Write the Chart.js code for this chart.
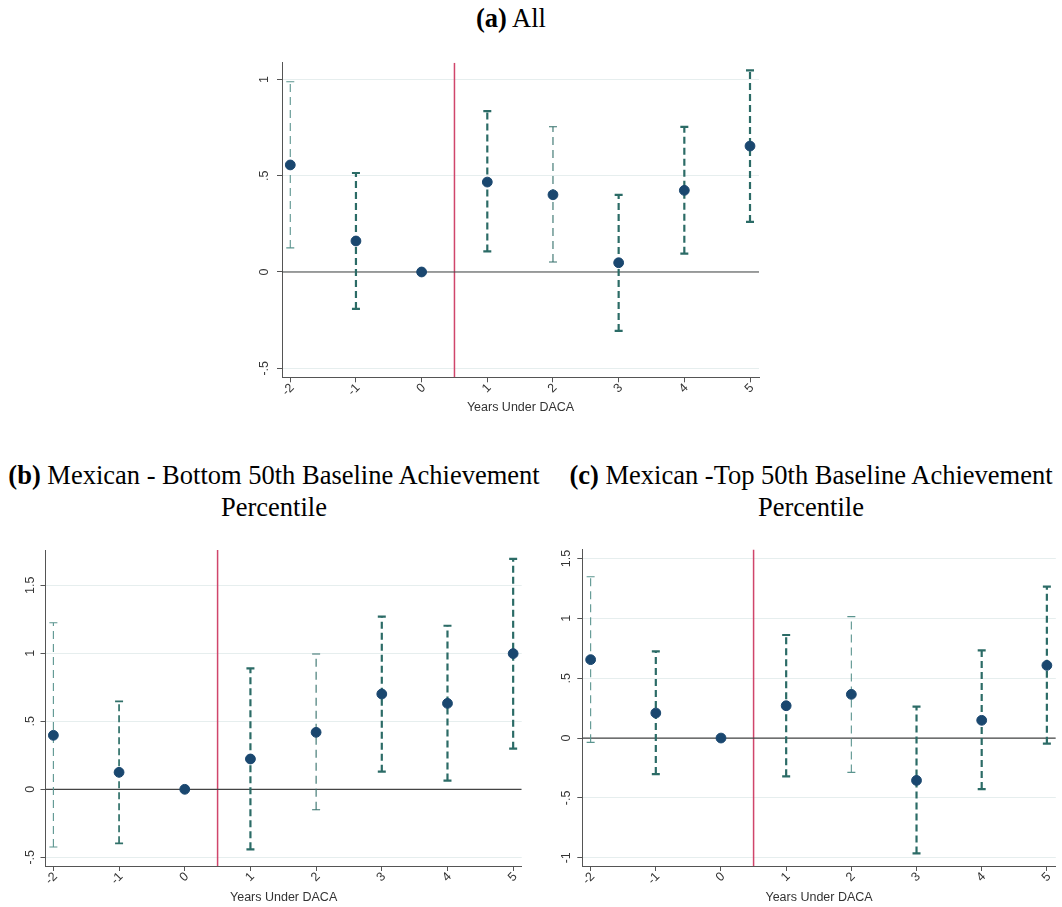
<!DOCTYPE html>
<html>
<head>
<meta charset="utf-8">
<script src="https://cdn.jsdelivr.net/npm/chart.js@4.4.1/dist/chart.umd.min.js"></script>
<style>
    body { margin: 0; background: #fff; width: 1062px; height: 907px; position: relative; overflow: hidden; }
    .title { position: absolute; font-family: "Liberation Serif", "Times New Roman", serif; font-size: 26.5px; line-height: 32px; color: #000; text-align: center; white-space: nowrap; }
    .title b { font-weight: bold; }
    canvas { position: absolute; }
</style>
</head>
<body>
<div class="title" style="left:411px; top:2px; width:200px;"><b>(a)</b> All</div>
<div class="title" style="left:0px; top:459px; width:548px;"><b>(b)</b> Mexican - Bottom 50th Baseline Achievement<br>Percentile</div>
<div class="title" style="left:560px; top:459px; width:502px;"><b>(c)</b> Mexican -Top 50th Baseline Achievement<br>Percentile</div>

<canvas id="chartA" width="540" height="370" style="left:230px; top:50px;"></canvas>
<canvas id="chartB" width="535" height="367" style="left:0px; top:540px;"></canvas>
<canvas id="chartC" width="532" height="367" style="left:530px; top:540px;"></canvas>

<script>
// x categories: years relative to DACA
const YEARS = [-2, -1, 0, 1, 2, 3, 4, 5];
const X_TICK_LABELS = ['-2', '-1', '0', '1', '2', '3', '4', '5'];
const X_TITLE = 'Years Under DACA';
const CUTOFF = 0.5; // vertical line between 0 and 1

// (a) All
const A_EST = [0.556, 0.161, 0, 0.467, 0.401, 0.048, 0.424, 0.654];
const A_LO  = [0.125, -0.192, null, 0.107, 0.052, -0.306, 0.095, 0.260];
const A_HI  = [0.988, 0.514, null, 0.836, 0.754, 0.401, 0.754, 1.047];
const A_Y_TICKS = [-0.5, 0, 0.5, 1];
const A_Y_LABELS = ['-.5', '0', '.5', '1'];

// (b) Mexican - bottom 50th
const B_EST = [0.397, 0.125, 0, 0.223, 0.419, 0.701, 0.632, 0.998];
const B_LO  = [-0.424, -0.397, null, -0.441, -0.150, 0.130, 0.064, 0.299];
const B_HI  = [1.225, 0.647, null, 0.890, 0.995, 1.270, 1.203, 1.694];
const B_Y_TICKS = [-0.5, 0, 0.5, 1, 1.5];
const B_Y_LABELS = ['-.5', '0', '.5', '1', '1.5'];

// (c) Mexican - top 50th
const C_EST = [0.655, 0.209, 0, 0.270, 0.365, -0.354, 0.148, 0.607];
const C_LO  = [-0.036, -0.301, null, -0.320, -0.287, -0.964, -0.426, -0.047];
const C_HI  = [1.348, 0.724, null, 0.861, 1.014, 0.262, 0.733, 1.265];
const C_Y_TICKS = [-1, -0.5, 0, 0.5, 1, 1.5];
const C_Y_LABELS = ['-1', '-.5', '0', '.5', '1', '1.5'];

// CI line weights per year (style only)
const A_WEIGHT = ['thin', 'thick', null, 'thick', 'thinDark', 'thick', 'thick', 'thick'];
const B_WEIGHT = ['thin', 'mid', null, 'thick', 'thinDark', 'thick', 'thick', 'thick'];
const C_WEIGHT = ['thin', 'thick', null, 'thick', 'thin', 'thick', 'thick', 'thick'];

const CI_STYLE = {
    thick:    { color: '#2b6b66', width: 2.2, dash: [7, 4] },
    mid:      { color: '#307069', width: 1.7, dash: [7, 4] },
    thinDark: { color: '#336f6a', width: 1.1, dash: [8, 5] },
    thin:     { color: '#5a948e', width: 1.1, dash: [8, 5] }
};

const TICK_FONT = { family: 'Liberation Sans, Arial, sans-serif', size: 12.5 };
const AXIS_COLOR = '#555555';

function makePanel(id, est, lo, hi, weight, yTicks, yLabels, opt) {
    const ctx = document.getElementById(id).getContext('2d');

    const datasets = [];
    // point estimates (drawn on top)
    datasets.push({
        data: YEARS.map((x, i) => ({ x, y: est[i] })),
        pointRadius: 4.9,
        pointBackgroundColor: '#1a476f',
        pointBorderColor: '#1a476f',
        pointBorderWidth: 1,
        showLine: false
    });
    // confidence intervals
    YEARS.forEach((x, i) => {
        if (lo[i] === null) return;
        const s = CI_STYLE[weight[i]];
        datasets.push({
            data: [{ x, y: lo[i] }, { x, y: hi[i] }],
            showLine: true,
            borderColor: s.color,
            borderWidth: s.width,
            borderDash: s.dash,
            pointStyle: 'line',
            pointRadius: 4,
            pointBorderColor: s.color,
            pointBorderWidth: s.width
        });
    });
    // zero line
    datasets.push({
        data: [{ x: opt.xMin, y: 0 }, { x: opt.xMax, y: 0 }],
        showLine: true,
        borderColor: '#444444',
        borderWidth: 1.2,
        pointRadius: 0
    });
    // DACA cutoff line
    datasets.push({
        data: [{ x: CUTOFF, y: opt.yMin }, { x: CUTOFF, y: opt.yMax }],
        showLine: true,
        borderColor: '#d0456b',
        borderWidth: 1.5,
        pointRadius: 0
    });

    return new Chart(ctx, {
        type: 'scatter',
        data: { datasets },
        options: {
            responsive: false,
            animation: false,
            events: [],
            layout: { padding: opt.padding },
            plugins: { legend: { display: false }, tooltip: { enabled: false } },
            scales: {
                x: {
                    type: 'linear',
                    min: opt.xMin,
                    max: opt.xMax,
                    afterBuildTicks: s => { s.ticks = YEARS.map(v => ({ value: v })); },
                    afterFit: s => { s.height = opt.xHeight; },
                    grid: { drawOnChartArea: false, tickLength: 5, tickColor: AXIS_COLOR, color: AXIS_COLOR },
                    border: { display: true, color: AXIS_COLOR, width: 1 },
                    ticks: {
                        autoSkip: false,
                        minRotation: 45,
                        maxRotation: 45,
                        padding: -1.7,
                        labelOffset: 2,
                        color: '#333',
                        font: TICK_FONT,
                        callback: (v, i) => X_TICK_LABELS[i]
                    },
                    title: {
                        display: true,
                        text: X_TITLE,
                        color: '#333',
                        font: TICK_FONT,
                        padding: { top: 0, bottom: 0 }
                    }
                },
                y: {
                    type: 'linear',
                    min: opt.yMin,
                    max: opt.yMax,
                    afterBuildTicks: s => { s.ticks = yTicks.map(v => ({ value: v })); },
                    afterFit: s => { s.width = opt.yWidth; },
                    grid: { color: '#e6eeee', lineWidth: 1, tickLength: 5, tickColor: AXIS_COLOR },
                    border: { display: true, color: AXIS_COLOR, width: 1 },
                    ticks: {
                        minRotation: 90,
                        maxRotation: 90,
                        crossAlign: 'center',
                        padding: opt.yPad,
                        color: '#333',
                        font: TICK_FONT,
                        callback: (v, i) => yLabels[i]
                    }
                }
            }
        }
    });
}

makePanel('chartA', A_EST, A_LO, A_HI, A_WEIGHT, A_Y_TICKS, A_Y_LABELS, {
    xMin: -2.126, xMax: 5.137, yMin: -0.547, yMax: 1.087,
    padding: { top: 12.7, right: 11, bottom: 4.5, left: 0 },
    xHeight: 38.2, yWidth: 52, yPad: 4.7
});
makePanel('chartB', B_EST, B_LO, B_HI, B_WEIGHT, B_Y_TICKS, B_Y_LABELS, {
    xMin: -2.12, xMax: 5.13, yMin: -0.564, yMax: 1.76,
    padding: { top: 10, right: 13.3, bottom: 2, left: 0 },
    xHeight: 39, yWidth: 45.5, yPad: 1.5
});
makePanel('chartC', C_EST, C_LO, C_HI, C_WEIGHT, C_Y_TICKS, C_Y_LABELS, {
    xMin: -2.128, xMax: 5.137, yMin: -1.069, yMax: 1.576,
    padding: { top: 9.3, right: 2, bottom: 2, left: 0 },
    xHeight: 39, yWidth: 52.3, yPad: 1.9
});
</script>
</body>
</html>
